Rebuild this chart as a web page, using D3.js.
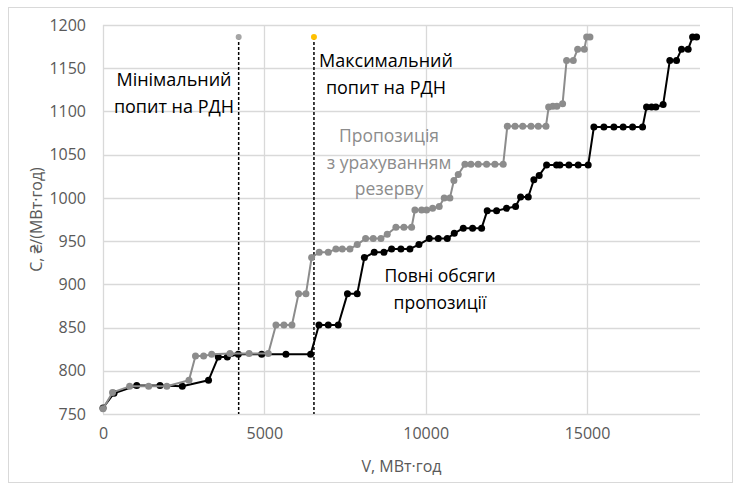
<!DOCTYPE html>
<html>
<head>
<meta charset="utf-8">
<script src="https://cdn.jsdelivr.net/npm/d3@7"></script>
<style>
  body { margin: 0; background: #fff; }
  text { font-family: "Open Sans", "Noto Sans", sans-serif; }
</style>
</head>
<body>
<div id="chart"></div>
<script>
// full supply curve (black)
const volFull = [0, 341, 1044, 1766, 2457, 3270, 3573, 3852, 4192, 4917, 5669, 6434, 6692, 6980, 7290, 7575, 7878, 8100, 8405, 8706, 8943, 9232, 9511, 9790, 10110, 10389, 10668, 10885, 11164, 11453, 11732, 11906, 12197, 12506, 12785, 12940, 13178, 13352, 13517, 13746, 14055, 14158, 14437, 14725, 15035, 15212, 15522, 15832, 16119, 16411, 16720, 16844, 16999, 17132, 17358, 17565, 17772, 17927, 18133, 18270, 18394];
const priceFull = [757, 774, 783, 783, 782, 789, 816, 816, 819, 819, 819, 819, 853, 853, 853, 889, 889, 931, 937, 937, 941, 941, 941, 946, 953, 953, 953, 959, 965, 965, 965, 985, 985, 988, 990, 1001, 1001, 1021, 1026, 1038, 1038, 1038, 1038, 1038, 1038, 1082, 1082, 1082, 1082, 1082, 1082, 1105, 1105, 1105, 1108, 1159, 1159, 1172, 1172, 1186, 1186];

// supply with reserve taken into account (grey)
const volRes = [0, 295, 825, 1415, 1978, 2664, 2866, 3118, 3367, 3934, 4528, 5121, 5360, 5607, 5855, 6060, 6289, 6465, 6700, 6980, 7218, 7414, 7652, 7878, 8138, 8374, 8613, 8808, 9077, 9325, 9563, 9666, 9873, 10028, 10214, 10419, 10574, 10750, 10874, 11008, 11215, 11401, 11627, 11887, 12144, 12402, 12530, 12768, 13006, 13263, 13489, 13727, 13810, 13940, 14065, 14242, 14366, 14573, 14709, 14915, 14988, 15090];
const priceRes = [756, 775, 782, 782, 782, 789, 817, 817, 819, 820, 820, 820, 853, 853, 853, 889, 889, 931, 937, 937, 941, 941, 941, 946, 953, 953, 953, 958, 966, 966, 966, 986, 986, 986, 988, 990, 1000, 1000, 1020, 1027, 1039, 1039, 1039, 1039, 1039, 1039, 1083, 1083, 1083, 1083, 1083, 1083, 1105, 1106, 1106, 1109, 1159, 1159, 1172, 1172, 1186, 1186];

// demand markers
const demandVol = [4204, 6537];
const demandTop = 1186;
const demandColors = ["#a5a5a5", "#ffc000"];

const xTicks = [0, 5000, 10000, 15000];
const yTicks = [750, 800, 850, 900, 950, 1000, 1050, 1100, 1150, 1200];

const W = 739, H = 488;
const margin = { top: 25, right: 39, bottom: 74, left: 103 };
const width = W - margin.left - margin.right;
const height = H - margin.top - margin.bottom;

const svg = d3.select("#chart").append("svg")
  .attr("width", W)
  .attr("height", H);

// chart frame
svg.append("rect")
  .attr("x", 8.5).attr("y", 7.5)
  .attr("width", 724).attr("height", 475)
  .attr("fill", "#fff")
  .attr("stroke", "#d9d9d9");

const g = svg.append("g")
  .attr("transform", "translate(" + margin.left + "," + margin.top + ")");

const x = d3.scaleLinear().domain([0, 18500]).range([0, width]);
const y = d3.scaleLinear().domain([750, 1200]).range([height, 0]);

// grid
g.selectAll(".hgrid").data(yTicks).enter().append("line")
  .attr("x1", 0).attr("x2", width)
  .attr("y1", d => Math.round(y(d)) + 0.5).attr("y2", d => Math.round(y(d)) + 0.5)
  .attr("stroke", "#d9d9d9").attr("stroke-width", 1.3);
g.selectAll(".vgrid").data(xTicks).enter().append("line")
  .attr("y1", 0).attr("y2", height)
  .attr("x1", d => Math.round(x(d)) + 0.5).attr("x2", d => Math.round(x(d)) + 0.5)
  .attr("stroke", "#d9d9d9").attr("stroke-width", 1.3);

// axes (labels only)
const xAxis = g.append("g")
  .attr("transform", "translate(0," + height + ")")
  .call(d3.axisBottom(x).tickValues(xTicks).tickSize(0).tickPadding(14).tickFormat(d3.format("d")));
const yAxis = g.append("g")
  .call(d3.axisLeft(y).tickValues(yTicks).tickSize(0).tickPadding(17).tickFormat(d3.format("d")));
[xAxis, yAxis].forEach(a => {
  a.select(".domain").remove();
  a.selectAll("text").attr("fill", "#595959").style("font-size", "16px");
});

// demand lines
const demand = demandVol.map((v, i) => ({ v: v, c: demandTop, color: demandColors[i] }));
g.selectAll(".demand").data(demand).enter().append("line")
  .attr("x1", d => x(d.v)).attr("x2", d => x(d.v))
  .attr("y1", d => y(d.c)).attr("y2", height)
  .attr("stroke", "#000").attr("stroke-width", 1.5)
  .attr("stroke-dasharray", "3,2");
g.selectAll(".demandDot").data(demand).enter().append("circle")
  .attr("cx", d => x(d.v)).attr("cy", d => y(d.c))
  .attr("r", 3).attr("fill", d => d.color);

const line = d3.line().x(d => x(d[0])).y(d => y(d[1]));

function drawSeries(vols, prices, color) {
  const pts = vols.map((v, i) => [v, prices[i]]);
  g.append("path").datum(pts)
    .attr("d", line)
    .attr("fill", "none")
    .attr("stroke", color)
    .attr("stroke-width", 2)
    .attr("stroke-linejoin", "round");
  g.append("g").selectAll("circle").data(pts).enter().append("circle")
    .attr("cx", d => x(d[0])).attr("cy", d => y(d[1]))
    .attr("r", 3.5).attr("fill", color);
}
drawSeries(volFull, priceFull, "#000");
drawSeries(volRes, priceRes, "#8c8c8c");

// annotations
function label(lines, cx, y0, color, size) {
  const t = svg.append("text")
    .attr("fill", color)
    .attr("text-anchor", "middle")
    .style("font-size", size + "px");
  lines.forEach((s, i) => {
    t.append("tspan").attr("x", cx).attr("y", y0 + i * 26.5).text(s);
  });
}
label(["Мінімальний", "попит на РДН"], 174, 86, "#000", 18);
label(["Максимальний", "попит на РДН"], 386, 67, "#000", 18);
label(["Пропозиція", "з урахуванням", "резерву"], 389, 142, "#8c8c8c", 17.5);
label(["Повні обсяги", "пропозиції"], 440, 282, "#000", 17.5);

// axis titles
svg.append("text")
  .attr("x", margin.left + width / 2).attr("y", 472)
  .attr("text-anchor", "middle").attr("fill", "#595959")
  .style("font-size", "16px")
  .text("V, МВт·год");
svg.append("text")
  .attr("transform", "translate(42," + (margin.top + height / 2) + ") rotate(-90)")
  .attr("text-anchor", "middle").attr("fill", "#595959")
  .style("font-size", "16px")
  .text("С, ₴/(МВт·год)");
</script>
</body>
</html>
